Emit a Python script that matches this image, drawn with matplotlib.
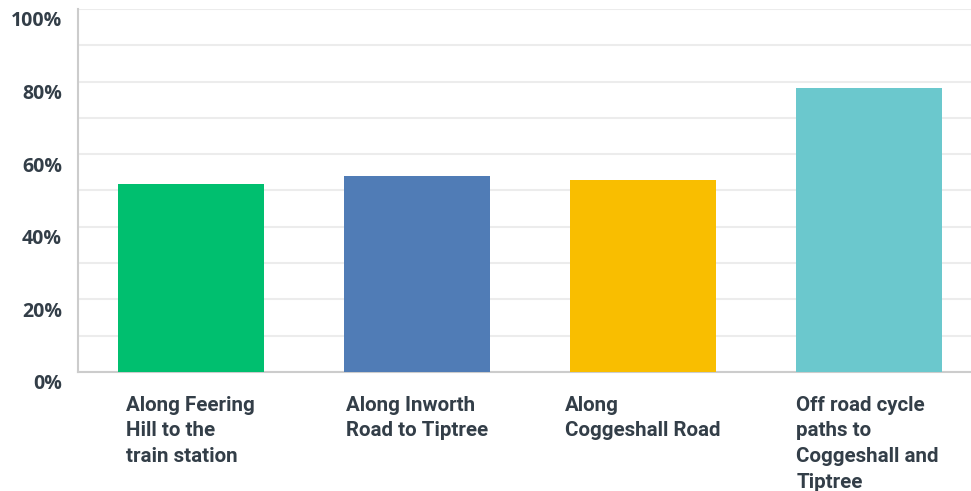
import matplotlib
matplotlib.use("Agg")
import matplotlib.pyplot as plt
import matplotlib.transforms as mtransforms
from matplotlib.ticker import MultipleLocator, FuncFormatter

# Data
categories = [
    "Along Feering\nHill to the\ntrain station",
    "Along Inworth\nRoad to Tiptree",
    "Along\nCoggeshall Road",
    "Off road cycle\npaths to\nCoggeshall and\nTiptree",
]
values = [51.7, 54.1, 52.8, 78.2]
colors = ["#00bf6f", "#507cb6", "#f9be00", "#6bc8cd"]

text_color = "#333e48"
bar_width = 0.646
# where each wrapped label starts, relative to its bar centre
label_dx = [-0.288, -0.314, -0.345, -0.323]

fig = plt.figure(figsize=(9.71, 4.91), dpi=100)
ax = fig.add_axes([0.0803, 0.2424, 0.9197, 0.7393])

x = list(range(len(categories)))
ax.bar(x, values, width=bar_width, color=colors, zorder=3)

ax.set_xlim(-0.5, 3.45)
ax.set_ylim(0, 100)
ax.yaxis.set_major_locator(MultipleLocator(20))
ax.yaxis.set_minor_locator(MultipleLocator(10))
ax.yaxis.set_major_formatter(FuncFormatter(lambda v, p: f"{v:.0f}%"))
ax.grid(axis="y", which="both", color="#ececec", linewidth=1.5, zorder=0)

for s in ["top", "right"]:
    ax.spines[s].set_visible(False)
for s in ["left", "bottom"]:
    ax.spines[s].set_color("#cccccc")
    ax.spines[s].set_linewidth(1.5)

ax.tick_params(axis="y", which="both", length=0, pad=11.5, labelcolor=text_color)
ax.set_xticks([])

# y labels sit a little below their gridlines in the original
shift = mtransforms.ScaledTranslation(0, -0.1, fig.dpi_scale_trans)
for lbl in ax.get_yticklabels():
    lbl.set_fontweight("bold")
    lbl.set_fontsize(14)
    lbl.set_family(["Open Sans", "DejaVu Sans"])
    lbl.set_transform(lbl.get_transform() + shift)

# category labels under each bar
for xi, dx, name in zip(x, label_dx, categories):
    ax.text(xi + dx, -6.5, name, ha="left", va="top",
            fontsize=14.8, fontweight="bold", color=text_color,
            family=["Roboto", "DejaVu Sans"],
            linespacing=1.45, clip_on=False)

fig.savefig("out.png", dpi=100)
